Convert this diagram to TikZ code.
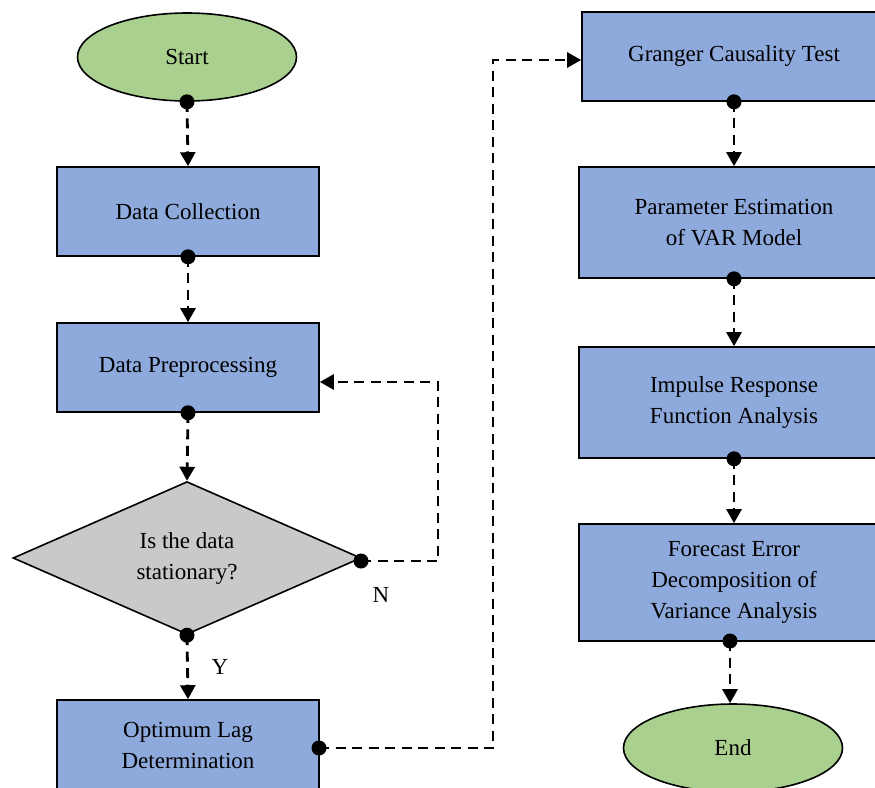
\documentclass[tikz,border=0pt]{standalone}
\usepackage{fontspec}
\setmainfont{Liberation Serif}
\usetikzlibrary{shapes.geometric,arrows.meta}
\definecolor{boxblue}{RGB}{142,169,219}
\definecolor{ovgreen}{RGB}{169,208,142}
\definecolor{dgray}{RGB}{201,201,201}
\tikzset{
  every node/.style={font=\fontsize{23}{31}\selectfont, align=center},
  procbox/.style={draw=black, line width=1.6pt, fill=boxblue, rectangle, inner sep=0pt},
  termbox/.style={draw=black, line width=1.6pt, fill=ovgreen, ellipse, minimum width=219pt, minimum height=88pt, inner sep=0pt},
  decbox/.style={draw=black, line width=1.6pt, fill=dgray, diamond, minimum width=348pt, minimum height=152pt, inner sep=0pt},
  conn/.style={line width=2.8pt, dash pattern=on 10pt off 6.5pt, -{Triangle[length=14pt,width=15pt]}},
  dotr/.style={fill=black}
}
\begin{document}
\begin{tikzpicture}[x=1pt,y=-1pt]
\useasboundingbox (0,0) rectangle (875,787);
\node[termbox] (start) at (187,57) {Start};
\node[procbox, minimum width=262pt, minimum height=89pt] (dc) at (188,211.5) {Data Collection};
\node[procbox, minimum width=262pt, minimum height=89pt] (dp) at (188,367.5) {Data Preprocessing};
\node[decbox] (dec) at (187,558) {Is the data\\stationary?};
\node[procbox, minimum width=262pt, minimum height=90pt] (opt) at (188,745) {Optimum Lag\\Determination};
\node[procbox, minimum width=304pt, minimum height=89pt] (gr) at (734,56.5) {Granger Causality Test};
\node[procbox, minimum width=310pt, minimum height=111pt] (pe) at (734,222.5) {Parameter Estimation\\of VAR Model};
\node[procbox, minimum width=310pt, minimum height=111pt] (ir) at (734,402.5) {Impulse Response\\Function Analysis};
\node[procbox, minimum width=310pt, minimum height=117pt] (fe) at (734,582.5) {Forecast Error\\Decomposition of\\Variance Analysis};
\node[termbox] (end) at (733,748) {End};
\node (ylab) at (220,667) {Y};
\node (nlab) at (381,595) {N};

\coordinate (c1) at (438,561);
\coordinate (c2) at (438,382);
\coordinate (d1) at (493,748);
\coordinate (d2) at (493,60);
\coordinate (ptdec) at (361,561);
\coordinate (ptopt) at (319,748);
\coordinate (ptfe) at (730,641);

\draw[conn] (start.south) -- (dc.north);
\draw[conn] (dc.south) -- (dp.north);
\draw[conn] (dp.south) -- (dec.north);
\draw[conn] (dec.south) -- (opt.north);
\draw[conn] (ptdec) -- (c1) -- (c2) -- (dp.east |- c2);
\draw[conn] (ptopt) -- (d1) -- (d2) -- (gr.west |- d2);
\draw[conn] (gr.south) -- (pe.north);
\draw[conn] (pe.south) -- (ir.north);
\draw[conn] (ir.south) -- (fe.north);
\draw[conn] (ptfe) -- (end.north -| ptfe);

\foreach \p in {start.south, dc.south, dp.south, dec.south, ptdec, ptopt, gr.south, pe.south, ir.south, ptfe}
  \fill[dotr] (\p) circle (7.5pt);
\end{tikzpicture}
\end{document}
